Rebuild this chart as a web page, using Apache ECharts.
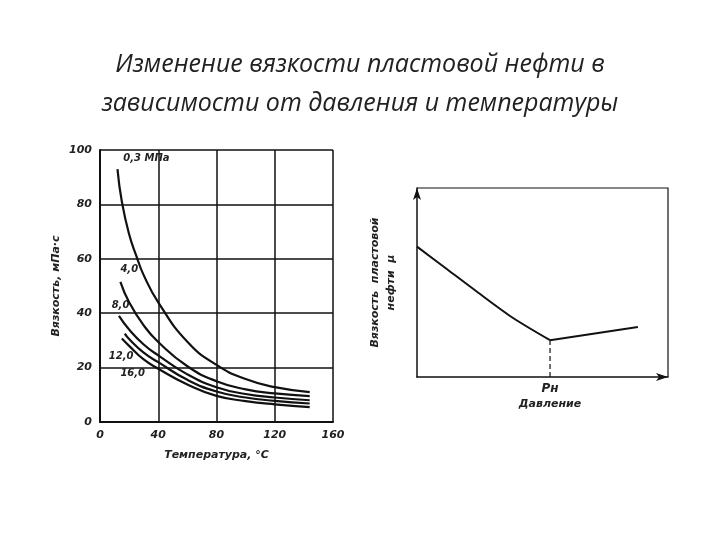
<!DOCTYPE html>
<html><head><meta charset="utf-8">
<script src="https://cdn.jsdelivr.net/npm/echarts@6/dist/echarts.min.js"></script>
<style>body{margin:0;background:#fff}#c{width:720px;height:540px}</style>
</head><body><div id="c"></div>
<script>
// left chart: viscosity vs temperature for several pressures
var pressures = ['0,3 МПа', '4,0', '8,0', '12,0', '16,0'];
var temps = [
  [12, 15, 20, 25, 30, 40, 60, 80, 100, 120, 144],
  [14, 20, 30, 40, 60, 80, 100, 120, 144],
  [13, 20, 30, 40, 60, 80, 100, 120, 144],
  [17, 20, 30, 40, 60, 80, 100, 120, 144],
  [15, 20, 30, 40, 60, 80, 100, 120, 144]
];
var viscosity = [
  [93, 81, 69, 61, 54, 44, 29.5, 21, 15.8, 12.8, 11],
  [51.5, 44, 35.5, 29.4, 20.5, 15, 12, 10.5, 9.5],
  [39, 34, 28.5, 24.5, 17.5, 12.8, 10.3, 9, 8],
  [32.5, 30.5, 25.5, 22, 15.5, 11.2, 9, 7.8, 6.8],
  [30.7, 28, 23, 19.6, 13.8, 9.6, 7.7, 6.5, 5.5]
];
var labelPos = [[16, 97], [14, 56], [8, 43], [6, 24], [14, 18]];
var xTicks = ['0', '40', '80', '120', '160'];

// right chart: viscosity vs pressure (schematic)
var pressure = [0, 12, 23, 38, 53, 88];
var viscP = [69, 57, 46, 31.5, 19.5, 26.5];
var pSat = 53;

var font = {fontFamily: 'DejaVu Sans', fontStyle: 'italic', fontWeight: 'bold', color: '#222', fontSize: 11};
var chart = echarts.init(document.getElementById('c'));

var series = viscosity.map(function (v, i) {
  return {
    type: 'line', xAxisIndex: 0, yAxisIndex: 0, smooth: true, symbol: 'none',
    lineStyle: {color: '#111', width: 2.2},
    data: v.map(function (y, j) { return [temps[i][j], y]; })
  };
});
series.push({
  type: 'line', xAxisIndex: 1, yAxisIndex: 1, symbol: 'none', smooth: 0.3,
  lineStyle: {color: '#111', width: 2},
  data: pressure.slice(0, 5).map(function (p, j) { return [p, viscP[j]]; })
});
series.push({
  type: 'line', xAxisIndex: 1, yAxisIndex: 1, symbol: 'none',
  lineStyle: {color: '#111', width: 2},
  data: [[pressure[4], viscP[4]], [pressure[5], viscP[5]]]
});
series.push({
  type: 'line', xAxisIndex: 1, yAxisIndex: 1, symbol: 'none',
  lineStyle: {color: '#111', width: 1.2, type: [5, 3]},
  data: [[pSat, 0], [pSat, viscP[4]]]
});

chart.setOption({
  animation: false,
  title: {
    text: 'Изменение вязкости пластовой нефти в\nзависимости от давления и температуры',
    left: 'center', top: 40,
    textStyle: {fontFamily: 'Open Sans', fontStyle: 'italic', fontWeight: 'normal', fontSize: 25, lineHeight: 39, color: '#222'}
  },
  grid: [
    {left: 100, right: 387, top: 150, bottom: 118},
    {left: 417, right: 52, top: 188, bottom: 163}
  ],
  xAxis: [
    {type: 'value', gridIndex: 0, min: 0, max: 160, interval: 40,
     axisLine: {lineStyle: {color: '#111', width: 2}}, axisTick: {show: false},
     splitLine: {lineStyle: {color: '#111', width: 1.5}},
     axisLabel: Object.assign({formatter: function (v) { return xTicks[v / 40]; }, margin: 8}, font),
     name: 'Температура, °C', nameLocation: 'middle', nameGap: 28, nameTextStyle: font},
    {type: 'value', gridIndex: 1, min: 0, max: 100,
     axisLine: {lineStyle: {color: '#111', width: 1.5}, symbol: ['none', 'arrow'], symbolSize: [6, 12]},
     axisTick: {show: false}, splitLine: {show: false},
     axisLabel: {show: false}}
  ],
  yAxis: [
    {type: 'value', gridIndex: 0, min: 0, max: 100, interval: 20,
     axisLine: {lineStyle: {color: '#111', width: 2}}, axisTick: {show: false},
     splitLine: {lineStyle: {color: '#111', width: 1.5}},
     axisLabel: Object.assign({margin: 8}, font),
     name: 'Вязкость, мПа·с', nameLocation: 'middle', nameGap: 38, nameTextStyle: font},
    {type: 'value', gridIndex: 1, min: 0, max: 100,
     axisLine: {lineStyle: {color: '#111', width: 1.5}, symbol: ['none', 'arrow'], symbolSize: [6, 12]},
     axisTick: {show: false}, splitLine: {show: false}, axisLabel: {show: false},
     name: 'Вязкость  пластовой\nнефти  μ', nameLocation: 'middle', nameGap: 18,
     nameTextStyle: Object.assign({}, font, {fontSize: 11, lineHeight: 16})}
  ],
  series: series
});

// curve labels, frame of the right chart, and P_н label
var g = [];
pressures.forEach(function (t, i) {
  var p = chart.convertToPixel({gridIndex: 0}, labelPos[i]);
  g.push({type: 'text', x: p[0], y: p[1], style: {text: t, align: 'left', verticalAlign: 'middle', fill: '#222', font: 'italic bold 10px DejaVu Sans'}});
});
var tl = chart.convertToPixel({gridIndex: 1}, [0, 100]);
var br = chart.convertToPixel({gridIndex: 1}, [100, 0]);
g.push({type: 'polyline', shape: {points: [[tl[0], tl[1]], [br[0], tl[1]], [br[0], br[1]]]}, style: {stroke: '#111', lineWidth: 1.2, fill: null}});
var pn = chart.convertToPixel({gridIndex: 1}, [pSat, 0]);
g.push({type: 'text', x: pn[0], y: pn[1] + 6, style: {text: 'Pн', align: 'center', fill: '#222', font: 'italic bold 12px DejaVu Sans'}});
g.push({type: 'text', x: pn[0], y: pn[1] + 22, style: {text: 'Давление', align: 'center', fill: '#222', font: 'italic bold 11px DejaVu Sans'}});
chart.setOption({graphic: g});
</script>
</body></html>
